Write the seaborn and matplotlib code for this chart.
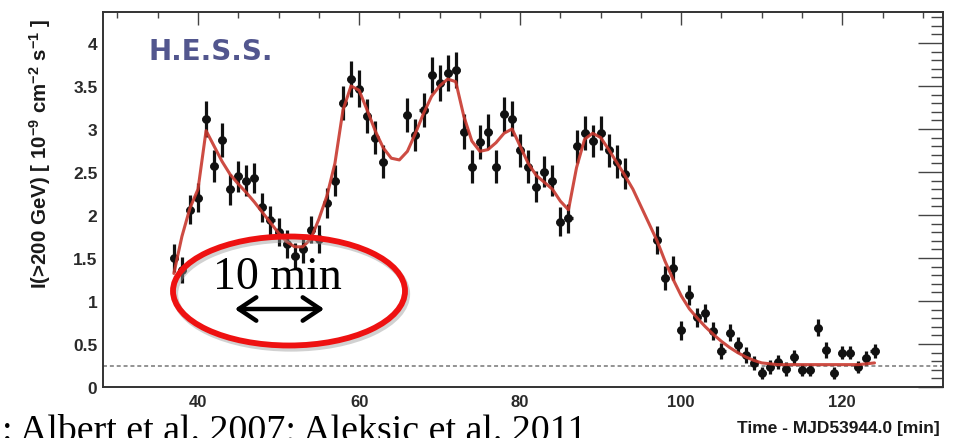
import numpy as np
import pandas as pd
import matplotlib
matplotlib.use("Agg")
import matplotlib.pyplot as plt
import seaborn as sns
from matplotlib.patches import Ellipse, FancyArrowPatch
from matplotlib.ticker import MultipleLocator

# ---------------- data ----------------
time_min = [37, 38, 39, 40, 41, 42, 43, 44, 45, 46, 47, 48, 49, 50, 51, 52, 53, 54, 55, 56,
            57, 58, 59, 60, 61, 62, 63, 66, 67, 68, 69, 70, 71, 72, 73, 74, 75, 76, 77, 78,
            79, 80, 81, 82, 83, 84, 85, 86, 87, 88, 89, 90, 91, 92, 93, 97, 98, 99, 100, 101,
            102, 103, 104, 105, 106, 107, 108, 109, 110, 111, 112, 113, 114, 115, 116, 117, 118, 119, 120, 121,
            122, 123, 124]
flux = [1.50, 1.36, 2.06, 2.20, 3.12, 2.57, 2.87, 2.30, 2.45, 2.40, 2.43, 2.09, 1.94, 1.80, 1.66, 1.52, 1.60, 1.83, 1.72, 2.14,
        2.40, 3.30, 3.58, 3.47, 3.15, 2.90, 2.62, 3.16, 2.93, 3.22, 3.63, 3.53, 3.65, 3.69, 2.97, 2.56, 2.85, 2.97, 2.56, 3.17,
        3.12, 2.75, 2.56, 2.33, 2.50, 2.40, 1.92, 1.96, 2.80, 2.95, 2.86, 2.95, 2.75, 2.62, 2.48, 1.71, 1.27, 1.38, 0.66, 1.07,
        0.81, 0.86, 0.65, 0.42, 0.63, 0.49, 0.37, 0.28, 0.16, 0.23, 0.29, 0.21, 0.35, 0.20, 0.20, 0.69, 0.43, 0.16, 0.40, 0.40,
        0.23, 0.34, 0.42]
flux_err = [0.16, 0.15, 0.17, 0.17, 0.21, 0.19, 0.20, 0.18, 0.18, 0.18, 0.18, 0.17, 0.17, 0.16, 0.16, 0.15, 0.16, 0.16, 0.16, 0.17,
            0.18, 0.20, 0.21, 0.21, 0.20, 0.19, 0.19, 0.20, 0.19, 0.20, 0.21, 0.21, 0.21, 0.21, 0.20, 0.19, 0.20, 0.20, 0.19, 0.20,
            0.20, 0.19, 0.19, 0.18, 0.18, 0.18, 0.17, 0.17, 0.19, 0.20, 0.19, 0.20, 0.19, 0.19, 0.18, 0.16, 0.14, 0.14, 0.11, 0.12,
            0.11, 0.11, 0.10, 0.09, 0.10, 0.09, 0.09, 0.08, 0.07, 0.08, 0.08, 0.08, 0.08, 0.07, 0.07, 0.10, 0.09, 0.07, 0.08, 0.08,
            0.07, 0.08, 0.08]

model_time = [37, 38, 39, 40, 41, 42, 43, 44, 45, 46, 47, 48, 49, 50, 51, 52, 53, 54, 55, 56,
              57, 58, 59, 60, 61, 62, 63, 64, 65, 66, 67, 68, 69, 70, 71, 72, 73, 74, 75, 76,
              77, 78, 79, 80, 81, 82, 83, 84, 85, 86, 87, 88, 89, 90, 91, 92, 93, 94, 95, 96,
              97, 98, 99, 100, 101, 102, 103, 104, 105, 106, 107, 108, 109, 110, 112, 114, 116, 118, 120, 122, 124]
model_flux = [1.32, 1.75, 2.08, 2.30, 2.98, 2.80, 2.62, 2.47, 2.36, 2.26, 2.15, 2.03, 1.91, 1.79, 1.69, 1.63, 1.63, 1.72, 1.95, 2.22,
              2.60, 3.22, 3.50, 3.45, 3.22, 2.98, 2.78, 2.66, 2.64, 2.74, 2.95, 3.18, 3.38, 3.50, 3.58, 3.55, 3.15, 2.86, 2.74, 2.76,
              2.84, 2.95, 3.00, 2.80, 2.60, 2.46, 2.38, 2.30, 2.16, 2.06, 2.55, 2.88, 2.95, 2.90, 2.76, 2.61, 2.46, 2.30, 2.10, 1.90,
              1.70, 1.46, 1.25, 1.06, 0.91, 0.80, 0.70, 0.61, 0.53, 0.46, 0.40, 0.35, 0.31, 0.28, 0.26, 0.26, 0.26, 0.26, 0.26, 0.26, 0.28]

baseline_flux = 0.24
x_ticks = [40, 60, 80, 100, 120]
y_ticks = [0, 0.5, 1, 1.5, 2, 2.5, 3, 3.5, 4]
y_tick_labels = ["0", "0.5", "1", "1.5", "2", "2.5", "3", "3.5", "4"]

x_label = "Time - MJD53944.0 [min]"
y_label = r"I(>200 GeV) [ 10$^{-9}$ cm$^{-2}$ s$^{-1}$ ]"
logo_text = "H.E.S.S."
note_text = "10 min"
ref_text = ": Albert et al. 2007; Aleksic et al. 2011"

df_points = pd.DataFrame({"t": time_min, "flux": flux, "err": flux_err})
df_model = pd.DataFrame({"t": model_time, "flux": model_flux})

# ---------------- style ----------------
sns.set_theme(style="white")
plt.rcParams['font.family'] = ['Liberation Sans', 'DejaVu Sans']
plt.rcParams['mathtext.fontset'] = 'custom'
plt.rcParams['mathtext.rm'] = 'Liberation Sans:bold'
plt.rcParams['mathtext.bf'] = 'Liberation Sans:bold'
plt.rcParams['mathtext.default'] = 'bf'

fig = plt.figure(figsize=(9.58, 4.39), dpi=100)
fig.patch.set_facecolor("white")
ax = fig.add_axes([0.1075, 0.1162, 0.8768, 0.8542])
ax.set_facecolor("white")

# baseline (dotted)
ax.axhline(baseline_flux, color="#8a8a8a", lw=1.3, ls=(0, (2.2, 1.6)), zorder=1)

# error bars and points
ax.errorbar(df_points["t"], df_points["flux"], yerr=df_points["err"], xerr=0.5,
            fmt="none", ecolor="#111111", elinewidth=2.3, capsize=0, zorder=2)
sns.scatterplot(data=df_points, x="t", y="flux", ax=ax, color="#111111", s=40,
                edgecolor="#111111", linewidth=0, zorder=3, legend=False)
# fitted model curve
sns.lineplot(data=df_model, x="t", y="flux", ax=ax, color="#c8382e", lw=2.2,
             alpha=0.9, zorder=4, legend=False, estimator=None, sort=True)

ax.set_xlim(28.2, 132.5)
ax.set_ylim(0, 4.36)
ax.set_xlabel("")
ax.set_ylabel("")
ax.set_xticks(x_ticks)
ax.set_xticklabels([str(v) for v in x_ticks])
ax.set_yticks(y_ticks)
ax.set_yticklabels(y_tick_labels)
ax.xaxis.set_minor_locator(MultipleLocator(5))
ax.yaxis.set_minor_locator(MultipleLocator(0.1))

for s in ax.spines.values():
    s.set_visible(True)
    s.set_color("#333333")
    s.set_linewidth(1.4)

ax.tick_params(axis="both", which="both", direction="in", top=True, right=True,
               color="#444444", width=1.0)
ax.tick_params(axis="x", which="major", length=9, pad=5, labelsize=12, labelcolor="#2a2a2a")
ax.tick_params(axis="x", which="minor", length=4.5)
ax.tick_params(axis="y", which="major", length=18, pad=4, labelsize=12.5, labelcolor="#2a2a2a")
ax.tick_params(axis="y", which="minor", length=9)
for lab in ax.get_xticklabels() + ax.get_yticklabels():
    lab.set_fontweight("bold")

# axis titles (ROOT style: right / top aligned)
fig.text(0.981, 0.025, x_label, ha="right", va="center", fontsize=12.5,
         fontweight="bold", color="#1a1a1a")
fig.text(0.042, 0.957, y_label, ha="center", va="top", rotation=90, fontsize=14.8,
         fontweight="bold", color="#1a1a1a")

# H.E.S.S. logo text
fig.text(0.1545, 0.863, logo_text, ha="left", va="baseline", fontsize=20,
         fontweight="bold", family=["DejaVu Sans"], color="#52568e")

# overlay annotation: red ellipse (with soft shadow), "10 min", double arrow
cx, cy, ew, eh = 289 / 958, 1 - 292 / 439, 232 / 958, 109 / 439
shadow = Ellipse((cx + 2 / 958, cy - 3 / 439), ew, eh, transform=fig.transFigure,
                 fill=False, edgecolor="#9a9a9a", lw=4.5, alpha=0.45, zorder=9)
fig.patches.append(shadow)
ell = Ellipse((cx, cy), ew, eh, transform=fig.transFigure,
              fill=False, edgecolor="#ee1111", lw=4.2, zorder=10)
fig.patches.append(ell)
fig.text(213 / 958, 1 - 289 / 439, note_text, ha="left", va="baseline", fontsize=33,
         family=["Liberation Serif", "DejaVu Serif"], color="black", zorder=11)
arr = FancyArrowPatch((232 / 958, 1 - 310 / 439), (327 / 958, 1 - 310 / 439),
                      transform=fig.transFigure, arrowstyle="<->,head_length=0.9,head_width=0.6",
                      color="black", lw=3.2, zorder=11, mutation_scale=14)
fig.patches.append(arr)

# reference text at the bottom (cut by the image edge, as in the reference)
fig.text(2 / 958, -0.004, ref_text, ha="left", va="baseline", fontsize=27.3,
         family=["Liberation Serif", "DejaVu Serif"], color="black")

fig.savefig("out.png", dpi=100, facecolor="white")
